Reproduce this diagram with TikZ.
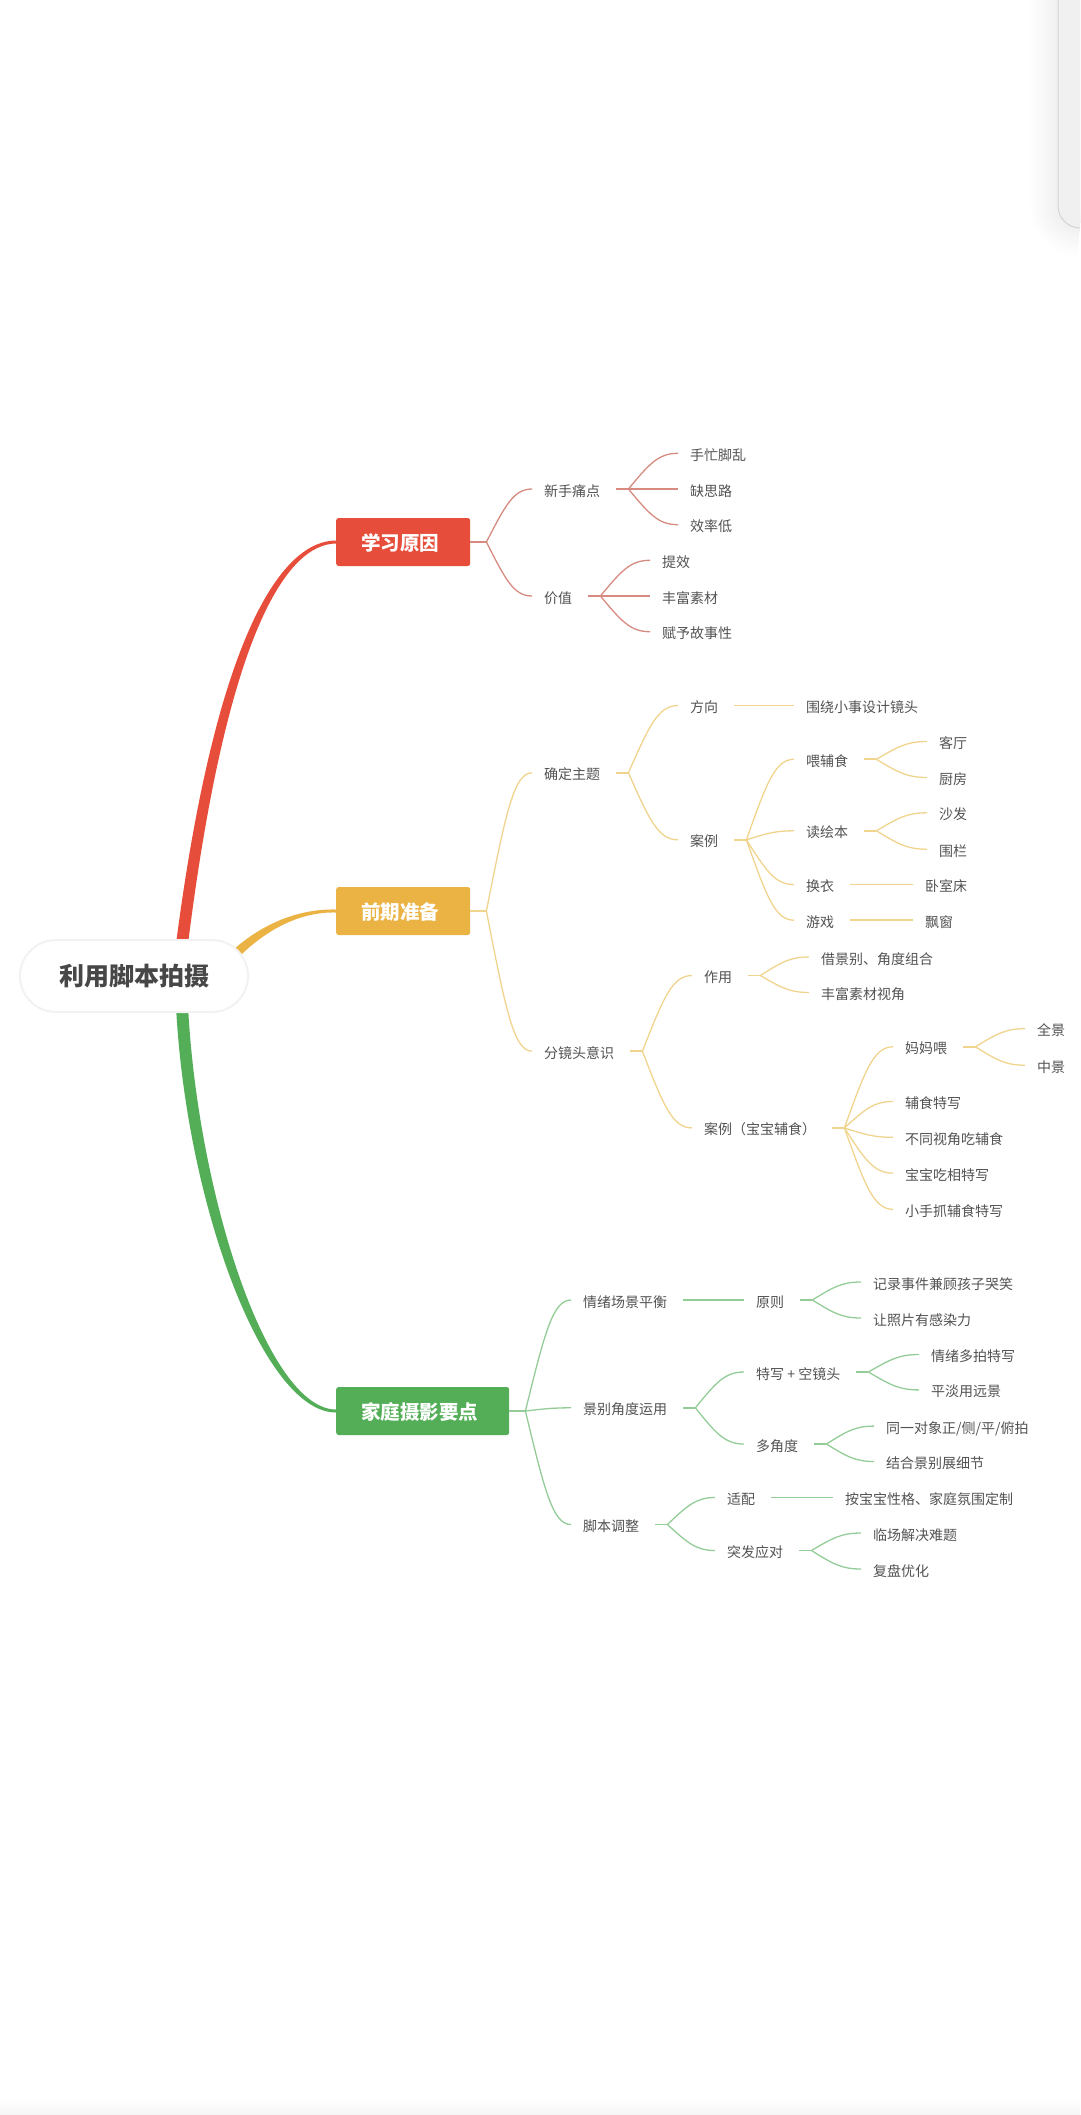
\documentclass[tikz,border=0pt]{standalone}
\usepackage{fontspec}
\setmainfont{Noto Sans CJK SC}
\usetikzlibrary{calc,backgrounds}
\definecolor{RedC}{HTML}{E64D3A}
\definecolor{YelC}{HTML}{EBB344}
\definecolor{GrnC}{HTML}{53AE57}
\definecolor{RedL}{HTML}{D68A80}
\definecolor{YelL}{HTML}{F0D48E}
\definecolor{GrnL}{HTML}{93CC97}
\tikzset{Root/.style={draw=black!5, line width=2pt, fill=white, rounded corners=36pt, minimum width=228pt, minimum height=72pt, inner sep=0pt, text=black!72, font=\fontsize{25pt}{25pt}\selectfont\bfseries}}
\tikzset{Main/.style={anchor=west, fill=#1, rounded corners=2.5pt, minimum height=48pt, inner xsep=25pt, inner ysep=0pt, text height=19pt, text depth=2pt, text=white, font=\fontsize{19.5pt}{20pt}\selectfont\bfseries, execute at end node=\hspace*{6pt}}}
\tikzset{T/.style={anchor=west, inner xsep=12pt, inner ysep=0pt, text height=15pt, text depth=1pt, text=black!68, font=\fontsize{14pt}{14pt}\selectfont}}
\tikzset{RL/.style={RedL, line width=1.3pt}}
\tikzset{YL/.style={YelL, line width=1.3pt}}
\tikzset{GL/.style={GrnL, line width=1.3pt}}
\newcommand{\Fork}[4][4pt]{%
  \coordinate (f) at ([xshift=16pt]#2.east);
  \draw[#4, line width=1.8pt] ([xshift=#1]#2.east) -- (f);
  \foreach \c in {#3} {
    \coordinate (k) at ($(f|-\c.west)!.6!(\c.west)$);
    \draw[#4] (f) .. controls ($(f)!.7!(k)$) and (k) .. (\c.west);
  }
}
\begin{document}
\begin{tikzpicture}[x=1pt,y=-1pt]
  \useasboundingbox (0,0) rectangle (1080,2115);
  \shade[top color=white, bottom color=black!4] (0,2098) rectangle (1080,2115);
  \foreach \w in {4,8,...,56}
    \draw[black, opacity=.004, line width=\w pt] (1058,0) -- (1058,206) .. controls (1058,218) and (1068,228) .. (1080,228);
  \fill[black!6] (1058,0) -- (1058,206) .. controls (1058,218) and (1068,228) .. (1080,228) -- (1080,0) -- cycle;
  \draw[black!17, line width=1pt] (1058,0) -- (1058,206) .. controls (1058,218) and (1068,228) .. (1080,228);

  \node[Root] (root) at (134,976) {利用脚本拍摄};
  \node[Main=RedC] (why) at (336,542) {学习原因};
  \node[Main=YelC] (prep) at (336,911) {前期准备};
  \node[Main=GrnC] (home) at (336,1411) {家庭摄影要点};

  \node[T] (pain) at (532,489) {新手痛点};
  \node[T] (value) at (532,596) {价值};
  \node[T] (p1) at (678,453.3) {手忙脚乱};
  \node[T] (p2) at (678,489) {缺思路};
  \node[T] (p3) at (678,524.7) {效率低};
  \node[T] (v1) at (650,560.3) {提效};
  \node[T] (v2) at (650,596) {丰富素材};
  \node[T] (v3) at (650,631.7) {赋予故事性};

  \node[T] (topic) at (532,772.8) {确定主题};
  \node[T] (dir) at (678,705.5) {方向};
  \node[T] (dir1) at (794,705.5) {围绕小事设计镜头};
  \node[T] (cases) at (678,839.8) {案例};
  \node[T] (feed) at (794,759.3) {喂辅食};
  \node[T] (read) at (794,830.8) {读绘本};
  \node[T] (cloth) at (794,884.5) {换衣};
  \node[T] (game) at (794,920.2) {游戏};
  \node[T] (feed1) at (927,741.5) {客厅};
  \node[T] (feed2) at (927,777.5) {厨房};
  \node[T] (read1) at (927,812.8) {沙发};
  \node[T] (read2) at (927,849.2) {围栏};
  \node[T] (cloth1) at (913,884.5) {卧室床};
  \node[T] (game1) at (913,920.2) {飘窗};

  \node[T] (shot) at (532,1051.2) {分镜头意识};
  \node[T] (use) at (692,975.5) {作用};
  \node[T] (use1) at (809,957) {借景别、角度组合};
  \node[T] (use2) at (809,992.5) {丰富素材视角};
  \node[T] (baby) at (692,1127.9) {案例（宝宝辅食）};
  \node[T] (mom) at (893,1046.8) {妈妈喂};
  \node[T] (mom1) at (1025,1028.7) {全景};
  \node[T] (mom2) at (1025,1065.2) {中景};
  \node[T] (b2) at (893,1101.5) {辅食特写};
  \node[T] (b3) at (893,1137.3) {不同视角吃辅食};
  \node[T] (b4) at (893,1173.1) {宝宝吃相特写};
  \node[T] (b5) at (893,1209.3) {小手抓辅食特写};

  \node[T] (mood) at (571,1300) {情绪场景平衡};
  \node[T] (rule) at (744,1300) {原则};
  \node[T] (rule1) at (861,1282) {记录事件兼顾孩子哭笑};
  \node[T] (rule2) at (861,1318) {让照片有感染力};
  \node[T] (angle) at (571,1407.8) {景别角度运用};
  \node[T] (close) at (744,1372) {特写 + 空镜头};
  \node[T] (close1) at (919,1354.5) {情绪多拍特写};
  \node[T] (close2) at (919,1389.9) {平淡用远景};
  \node[T] (multi) at (744,1444) {多角度};
  \node[T] (multi1) at (874,1426.1) {同一对象正/侧/平/俯拍};
  \node[T] (multi2) at (874,1461.5) {结合景别展细节};
  \node[T] (adj) at (571,1524.5) {脚本调整};
  \node[T] (fit) at (715,1497.5) {适配};
  \node[T] (fit1) at (833,1497.5) {按宝宝性格、家庭氛围定制};
  \node[T] (sudden) at (715,1550.5) {突发应对};
  \node[T] (s1) at (861,1533) {临场解决难题};
  \node[T] (s2) at (861,1569) {复盘优化};

  \begin{scope}[on background layer]
    \fill[RedC] ([shift={(42,5)}]root.north) .. controls (217,628) and (284,540.5) .. ([shift={(0,-1.5)}]why.west) -- ([shift={(0,1.5)}]why.west) .. controls (287,544) and (227,632) .. ([shift={(54,5)}]root.north) -- cycle;
    \fill[YelC] (218,965) .. controls (252,927) and (295,908.5) .. ([shift={(0,-1.5)}]prep.west) -- ([shift={(0,1.5)}]prep.west) .. controls (297,911.5) and (258,933) .. (226,971) -- cycle;
    \fill[GrnC] ([shift={(42,-7)}]root.south) .. controls (186,1203) and (263,1412.5) .. ([shift={(0,1.5)}]home.west) -- ([shift={(0,-1.5)}]home.west) .. controls (268,1409.5) and (198,1197) .. ([shift={(54,-7)}]root.south) -- cycle;
  \end{scope}

  \Fork[0pt]{why}{pain,value}{RL}
  \Fork{pain}{p1,p2,p3}{RL}
  \Fork{value}{v1,v2,v3}{RL}

  \Fork[0pt]{prep}{topic,shot}{YL}
  \Fork{topic}{dir,cases}{YL}
  \draw[YL] ([xshift=4pt]dir.east) -- (dir1.west);
  \Fork{cases}{feed,read,cloth,game}{YL}
  \Fork{feed}{feed1,feed2}{YL}
  \Fork{read}{read1,read2}{YL}
  \draw[YL] ([xshift=4pt]cloth.east) -- (cloth1.west);
  \draw[YL, line width=1.8pt] ([xshift=4pt]game.east) -- (game1.west);
  \Fork{shot}{use,baby}{YL}
  \Fork{use}{use1,use2}{YL}
  \Fork{baby}{mom,b2,b3,b4,b5}{YL}
  \Fork{mom}{mom1,mom2}{YL}

  \Fork[0pt]{home}{mood,angle,adj}{GL}
  \draw[GL] ([xshift=4pt]mood.east) -- (rule.west);
  \Fork{rule}{rule1,rule2}{GL}
  \Fork{angle}{close,multi}{GL}
  \Fork{close}{close1,close2}{GL}
  \Fork{multi}{multi1,multi2}{GL}
  \Fork{adj}{fit,sudden}{GL}
  \draw[GL] ([xshift=4pt]fit.east) -- (fit1.west);
  \Fork{sudden}{s1,s2}{GL}
\end{tikzpicture}
\end{document}
